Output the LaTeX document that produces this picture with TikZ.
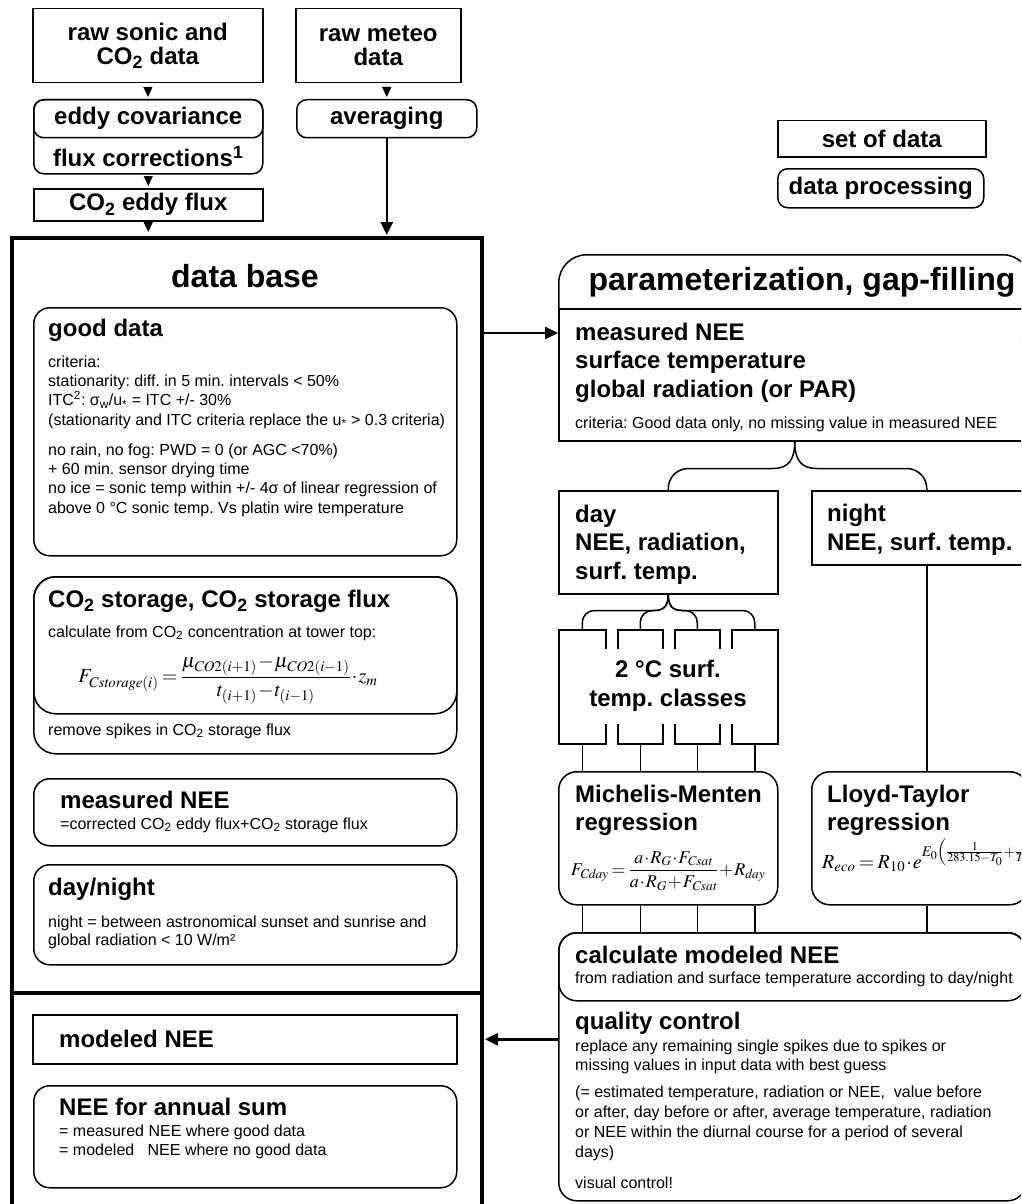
\documentclass[tikz,border=0pt]{standalone}
\usepackage{mathptmx}
\usepackage{fontspec}
\setmainfont{Liberation Sans}
\usetikzlibrary{arrows.meta,calc,positioning}
\frenchspacing

\newcommand\fsz[2]{\fontsize{#1}{#2}\selectfont\lineskiplimit=-100pt\relax}
\newcommand\boxhead{\bfseries\fontsize{24}{28.5}\selectfont}
\newcommand\tightmath{\medmuskip=1mu\thickmuskip=3mu\relax}

\tikzset{
  setbox/.style={draw, line width=1.5pt, inner sep=0pt, anchor=north west},
  procbox/.style={setbox, rounded corners=#1},
  procbox/.default=16pt,
  lbl/.style={inner sep=0pt, anchor=base west, align=left, font=\fsz{16}{19.3}},
  headtxt/.style={font=\bfseries\fsz{24}{#1}},
  headtxt/.default=28.5,
  formula/.style={inner sep=0pt, font=\fsz{#1}{24}\tightmath},
  formula/.default=20,
  conn/.style={line width=1.5pt},
  smalltip/.style={-{Triangle[width=9pt,length=10pt]}, line width=1pt},
  bigarrow/.style={-{Triangle[width=12pt,length=13pt]}, line width=2.5pt},
}

\begin{document}
\begin{tikzpicture}[x=1pt, y=-1pt]
      \useasboundingbox (0,0) rectangle (1021,1204);
      \clip (0,0) rectangle (1021,1204);

      \node[setbox, minimum width=230pt, minimum height=74pt, headtxt=24, align=center] (sonic) at (32,8) {raw sonic and\\CO\textsubscript{2} data};
      \node[procbox=10pt, minimum width=229pt, minimum height=74pt] (eddy) at (33,99) {};
      \node[procbox=10pt, minimum width=229pt, minimum height=38pt, headtxt=24] (ecov) at (33,99) {eddy covariance};
      \node[headtxt=24, inner sep=0pt] (fcor) at ($(eddy.south)!0.5!(ecov.south)$) {flux corrections\textsuperscript{1}};
      \node[setbox, minimum width=229pt, minimum height=32pt, headtxt=24] (flux) at (33,188) {CO\textsubscript{2} eddy flux};

      \node[setbox, minimum width=165pt, minimum height=74pt, headtxt=24, align=center] (meteo) at (295,8) {raw meteo\\data};
      \node[procbox=10pt, minimum width=180pt, minimum height=38pt, headtxt=24] (avg) at (296,99) {averaging};

      \node[setbox, minimum width=208pt, minimum height=36pt, headtxt=24] (lset) at (777,120) {set of data};
      \node[procbox=10pt, minimum width=206pt, minimum height=39pt, headtxt=24] (lproc) at (777,168) {data processing};

      \node[draw, line width=4pt, inner sep=0pt, anchor=north west, minimum width=470pt, minimum height=990pt] (db) at (10,236) {};
      \node[font=\bfseries\fsz{32}{32}, inner sep=0pt, anchor=base] (dbt) at (245,287) {data base};
      \coordinate (split) at (0,993);
      \draw[line width=4pt] (db.west |- split) -- (db.east |- split);

      \node[procbox, minimum width=423pt, minimum height=248pt] (good) at (33,307) {};
      \node[lbl] (goodt) at (48,513) {{\boxhead good data}\\[11.7pt]
        criteria:\\
        stationarity: diff. in 5 min. intervals < 50\%\\
        ITC\textsuperscript{2}: σ\textsubscript{w}/u\textsubscript{*} = ITC +/- 30\%\\
        (stationarity and ITC criteria replace the u\textsubscript{*} > 0.3 criteria)\\[10.7pt]
        no rain, no fog: PWD = 0 (or AGC <70\%)\\
        + 60 min. sensor drying time\\
        no ice = sonic temp within +/- 4σ of linear regression of\\
        above 0 °C sonic temp. Vs platin wire temperature};

      \node[procbox=22pt, minimum width=423pt, minimum height=177pt] (stor) at (33,576) {};
      \node[procbox=22pt, minimum width=423pt, minimum height=137pt] (storc) at (33,576) {};
      \node[lbl] (stort) at (48,637) {{\boxhead CO\textsubscript{2} storage, CO\textsubscript{2} storage flux}\\[10.7pt]
        calculate from CO\textsubscript{2} concentration at tower top:};
      \node[formula=20] (storf) at (228,680)
        {$F_{\mathit{Cstorage}(i)}=\displaystyle\frac{\mu_{\mathit{CO}2(i+1)}-\mu_{\mathit{CO}2(i-1)}}{t_{(i+1)}-t_{(i-1)}}\cdot z_m$};
      \node[lbl] (spike) at (48,735) {remove spikes in CO\textsubscript{2} storage flux};

      \node[procbox, minimum width=423pt, minimum height=67pt] (meas) at (33,778) {};
      \node[lbl] (meast) at (60,829) {{\boxhead measured NEE}\\[1.7pt]
        =corrected CO\textsubscript{2} eddy flux+CO\textsubscript{2} storage flux};

      \node[procbox, minimum width=423pt, minimum height=100pt] (dn) at (33,864) {};
      \node[lbl] (dnt) at (48,945) {{\boxhead day/night}\\[12.7pt]
        night = between astronomical sunset and sunrise and\\[-1.3pt]
        global radiation < 10 W/m²};

      \node[setbox, minimum width=424pt, minimum height=49pt] (mod) at (32,1014) {};
      \node[lbl, headtxt] (modt) at (59,1047) {modeled NEE};

      \node[procbox, minimum width=423pt, minimum height=102pt] (annual) at (33,1085) {};
      \node[lbl] (annualt) at (59,1155) {{\boxhead NEE for annual sum}\\[1.7pt]
        = measured NEE where good data\\[-0.3pt]
        = modeled\ \ \ NEE where no good data};

      \node[procbox=28pt, minimum width=472pt, minimum height=90pt] (part) at (558,254) {};
      \node[setbox, fill=white, minimum width=472pt, minimum height=132pt] (par) at (558,308) {};
      \node[font=\bfseries\fsz{32}{32}, inner sep=0pt, anchor=base] (partt) at (802,290) {parameterization, gap-filling};
      \node[lbl] (parin) at (575,428) {{\boxhead measured NEE}\\[9.2pt]
        {\boxhead surface temperature}\\[9.2pt]
        {\boxhead global radiation (or PAR)}\\[11.7pt]
        criteria: Good data only, no missing value in measured NEE};

      \node[setbox, minimum width=219pt, minimum height=103pt] (dd) at (558,490) {};
      \node[lbl, headtxt] (ddt) at (575,579) {day\\NEE, radiation,\\surf. temp.};
      \node[setbox, minimum width=230pt, minimum height=74pt] (nt) at (811,490) {};
      \node[lbl, headtxt] (ntt) at (827,550) {night\\NEE, surf. temp.};

      \draw[conn] (par.south) .. controls ($(par.south)+(0,18)$) and ($(par.south)+(-6,27)$) .. ($(par.south)+(-22,27)$)
        [rounded corners=20pt] -| (dd.north);
      \draw[conn] (par.south) .. controls ($(par.south)+(0,18)$) and ($(par.south)+(6,27)$) .. ($(par.south)+(22,27)$)
        [rounded corners=20pt] -| (nt.north);

      \node[setbox, minimum width=47pt, minimum height=114pt] (c1) at (558,629) {};
      \node[setbox, minimum width=45pt, minimum height=114pt] (c2) at (617,629) {};
      \node[setbox, minimum width=45pt, minimum height=114pt] (c3) at (674,629) {};
      \node[setbox, minimum width=46pt, minimum height=114pt] (c4) at (731,629) {};
      \node[fill=white, inner sep=0pt, minimum width=200pt, minimum height=75pt, align=center, headtxt] (cls) at (668,686) {2 °C surf.\\temp. classes};

      \foreach \c/\s in {c1/-1, c2/-1, c3/1, c4/1}
        \draw[conn] (dd.south) .. controls ($(dd.south)+(0,11)$) and ($(dd.south)+(\s*4,16)$) .. ($(dd.south)+(\s*14,16)$)
          [rounded corners=12pt] -| (\c.north);

      \node[procbox=18pt, minimum width=219pt, minimum height=133pt] (mm) at (558,771) {};
      \node[lbl, headtxt=28] (mmt) at (575,830) {Michelis-Menten\\regression};
      \node[formula=18] (mmf) at (668,871)
        {$F_{\mathit{Cday}}=\displaystyle\frac{a\cdot R_G\cdot F_{\mathit{Csat}}}{a\cdot R_G+F_{\mathit{Csat}}}+R_{\mathit{day}}$};

      \node[procbox=18pt, minimum width=216pt, minimum height=133pt] (lt) at (811,771) {};
      \node[lbl, headtxt=28] (ltt) at (827,830) {Lloyd-Taylor\\regression};
      \node[formula, anchor=base west] (ltf) at (822,868)
        {$R_{\mathit{eco}}=R_{10}\cdot e^{E_0\left(\frac{1}{283.15-T_0}+\frac{1}{T-T_0}\right)}$};

      \node[procbox=18pt, minimum width=467pt, minimum height=268pt] (qc) at (558,932) {};
      \node[procbox=18pt, minimum width=467pt, minimum height=68pt] (calc) at (558,932) {};
      \node[lbl] (calct) at (575,983) {{\boxhead calculate modeled NEE}\\[0.7pt]
        from radiation and surface temperature according to day/night};
      \node[lbl] (qct) at (575,1188) {{\boxhead quality control}\\[2.7pt]
        replace any remaining single spikes due to spikes or\\
        missing values in input data with best guess\\[7.7pt]
        (= estimated temperature, radiation or NEE,\ \ value before\\[0.4pt]
        or after, day before or after, average temperature, radiation\\[0.4pt]
        or NEE within the diurnal course for a period of several\\[0.4pt]
        days)\\[11.7pt]
        visual control!};

      \foreach \c in {c1,c2,c3,c4} {
        \draw[conn] (\c.south) -- (\c.south |- mm.north);
        \draw[conn] (\c.south |- mm.south) -- (\c.south |- calc.north);
      }
      \draw[conn] (nt.south) -- (nt.south |- lt.north);
      \draw[conn] (nt.south |- lt.south) -- (nt.south |- calc.north);

      \draw[smalltip, shorten <=5pt, shorten >=2pt] (sonic.south) -- (ecov.north);
      \draw[smalltip, shorten <=3pt, shorten >=2pt] (eddy.south) -- (flux.north);
      \draw[smalltip, shorten <=2pt, shorten >=4pt] (flux.south) -- (flux.south |- db.north);
      \draw[smalltip, shorten <=5pt, shorten >=2pt] (avg.north |- meteo.south) -- (avg.north);
      \draw[bigarrow, shorten >=1pt] (avg.south) -- (avg.south |- db.north);

      \coordinate (gate) at (0,333);
      \draw[bigarrow] (db.east |- gate) -- (par.west |- gate);
      \draw[bigarrow, shorten >=1pt] (qc.west |- mod.east) -- (db.east |- mod.east);
\end{tikzpicture}
\end{document}
